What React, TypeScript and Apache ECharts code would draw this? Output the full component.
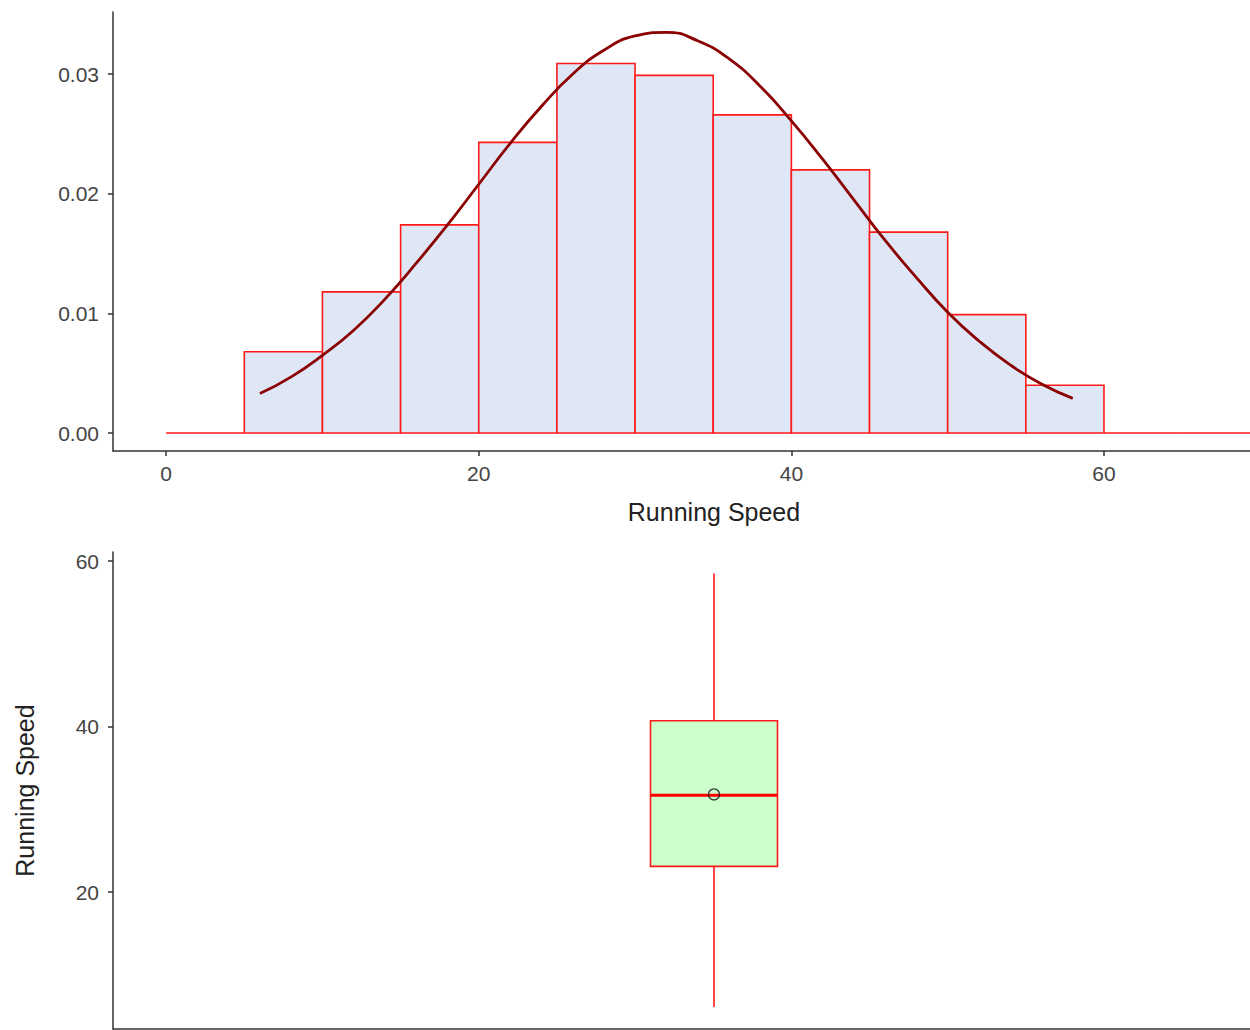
import React, { useEffect, useRef } from "react";
import * as echarts from "echarts";

// Histogram bins (start, end, density)
const binStarts = [0, 5, 10, 15, 20, 25, 30, 35, 40, 45, 50, 55, 60, 65];
const binEnds = [5, 10, 15, 20, 25, 30, 35, 40, 45, 50, 55, 60, 65, 70];
const binDensity = [0, 0.0068, 0.0118, 0.0174, 0.0243, 0.0309, 0.0299, 0.0266, 0.022, 0.0168, 0.0099, 0.004, 0, 0];

// Density curve
const curveX = [6, 8, 10, 12, 14, 16, 18, 20, 22, 24, 26, 28, 30, 32, 34, 36, 38, 40, 42, 44, 46, 48, 50, 52, 54, 56, 58];
const curveY = [0.0033, 0.0047, 0.0065, 0.0086, 0.0112, 0.0142, 0.0174, 0.0208, 0.0242, 0.0273, 0.03, 0.032, 0.0332, 0.0335, 0.0328, 0.0313, 0.029, 0.0261, 0.0229, 0.0195, 0.0161, 0.013, 0.0101, 0.0077, 0.0057, 0.0041, 0.0029];

// Boxplot stats: [lower whisker, Q1, median, Q3, upper whisker]
const boxCategory = ["Running Speed"];
const boxStats = [6.1, 23.1, 31.7, 40.7, 58.5];
const boxMean = 31.8;

const topYTicks = [0, 0.01, 0.02, 0.03];
const topXTicks = [0, 20, 40, 60];
const bottomYTicks = [20, 40, 60];

const FONT = "Liberation Sans, Arial, sans-serif";
const LABEL_COLOR = "#444444";
const AXIS_COLOR = "#333333";
const RED = "#ff1a1a";

export default function App() {
  const ref = useRef<HTMLDivElement>(null);

  useEffect(() => {
    if (!ref.current) return;
    const chart = echarts.init(ref.current, undefined, { renderer: "svg" });

    const axisLine = { show: true, onZero: false, lineStyle: { color: AXIS_COLOR, width: 1.5 } };
    const axisTick = { show: true, length: 5, lineStyle: { color: AXIS_COLOR, width: 1.5 } };
    const labelBase = { color: LABEL_COLOR, fontSize: 21, fontFamily: FONT };

    const option: any = {
      animation: false,
      backgroundColor: "#ffffff",
      grid: [
        { left: 113, top: 12, width: 1202, height: 439, outerBoundsMode: "none", containLabel: false },
        { left: 113, top: 552, width: 1202, height: 477, outerBoundsMode: "none", containLabel: false },
      ],
      xAxis: [
        {
          type: "value",
          gridIndex: 0,
          min: -3.4,
          max: 73.5,
          splitLine: { show: false },
          axisLine,
          axisTick: { ...axisTick, customValues: topXTicks },
          axisLabel: { ...labelBase, margin: 12, customValues: topXTicks },
          name: "Running Speed",
          nameLocation: "middle",
          nameGap: 48,
          nameTextStyle: { color: "#222222", fontSize: 25, fontFamily: FONT },
        },
        {
          type: "category",
          gridIndex: 1,
          data: boxCategory,
          boundaryGap: true,
          axisLine,
          axisTick: { show: false },
          axisLabel: { show: false },
          splitLine: { show: false },
        },
      ],
      yAxis: [
        {
          type: "value",
          gridIndex: 0,
          min: -0.0015,
          max: 0.0352,
          splitLine: { show: false },
          axisLine,
          axisTick: { ...axisTick, customValues: topYTicks },
          axisLabel: {
            ...labelBase,
            margin: 14,
            customValues: topYTicks,
            formatter: (v: number) => v.toFixed(2),
          },
        },
        {
          type: "value",
          gridIndex: 1,
          min: 3.44,
          max: 61.1,
          splitLine: { show: false },
          axisLine,
          axisTick: { ...axisTick, customValues: bottomYTicks },
          axisLabel: { ...labelBase, margin: 14, customValues: bottomYTicks },
          name: "Running Speed",
          nameLocation: "middle",
          nameRotate: 90,
          nameGap: 76,
          nameTextStyle: { color: "#222222", fontSize: 25, fontFamily: FONT },
        },
      ],
      series: [
        {
          type: "custom",
          xAxisIndex: 0,
          yAxisIndex: 0,
          data: binStarts.map((s, i) => [s, binEnds[i], binDensity[i]]),
          encode: { x: [0, 1], y: 2 },
          renderItem: (params: any, api: any) => {
            const x0 = api.value(0);
            const x1 = api.value(1);
            const v = api.value(2);
            const p0 = api.coord([x0, 0]);
            const p1 = api.coord([x1, v]);
            if (v === 0) {
              return {
                type: "line",
                shape: { x1: p0[0], y1: p0[1], x2: p1[0], y2: p0[1] },
                style: { stroke: RED, lineWidth: 1.6 },
              };
            }
            return {
              type: "rect",
              shape: { x: p0[0], y: p1[1], width: p1[0] - p0[0], height: p0[1] - p1[1] },
              style: { fill: "#dfe7f7", stroke: RED, lineWidth: 1.6 },
            };
          },
        },
        {
          type: "line",
          xAxisIndex: 0,
          yAxisIndex: 0,
          data: curveX.map((x, i) => [x, curveY[i]]),
          smooth: true,
          showSymbol: false,
          symbol: "none",
          lineStyle: { color: "#8b0000", width: 2.8 },
          z: 3,
        },
        {
          type: "custom",
          xAxisIndex: 1,
          yAxisIndex: 1,
          data: [[0, ...boxStats]],
          encode: { x: 0, y: [1, 2, 3, 4, 5] },
          renderItem: (params: any, api: any) => {
            const cat = api.value(0);
            const lo = api.coord([cat, api.value(1)]);
            const q1 = api.coord([cat, api.value(2)]);
            const med = api.coord([cat, api.value(3)]);
            const q3 = api.coord([cat, api.value(4)]);
            const hi = api.coord([cat, api.value(5)]);
            const cx = lo[0];
            const half = 63.5;
            return {
              type: "group",
              children: [
                {
                  type: "line",
                  shape: { x1: cx, y1: hi[1], x2: cx, y2: q3[1] },
                  style: { stroke: RED, lineWidth: 1.6 },
                },
                {
                  type: "line",
                  shape: { x1: cx, y1: q1[1], x2: cx, y2: lo[1] },
                  style: { stroke: RED, lineWidth: 1.6 },
                },
                {
                  type: "rect",
                  shape: { x: cx - half, y: q3[1], width: half * 2, height: q1[1] - q3[1] },
                  style: { fill: "#ccffcc", stroke: RED, lineWidth: 1.6 },
                },
                {
                  type: "line",
                  shape: { x1: cx - half, y1: med[1], x2: cx + half, y2: med[1] },
                  style: { stroke: "#ff0000", lineWidth: 3 },
                },
              ],
            };
          },
        },
        {
          type: "scatter",
          xAxisIndex: 1,
          yAxisIndex: 1,
          data: [[0, boxMean]],
          symbol: "circle",
          symbolSize: 11,
          itemStyle: { color: "rgba(0,0,0,0)", borderColor: "#111111", borderWidth: 1.3 },
          z: 4,
        },
      ],
    };

    chart.setOption(option);
    return () => chart.dispose();
  }, []);

  return (
    <div
      ref={ref}
      style={{ position: "fixed", left: 0, top: 0, width: 1250, height: 1030, background: "#fff" }}
    />
  );
}
